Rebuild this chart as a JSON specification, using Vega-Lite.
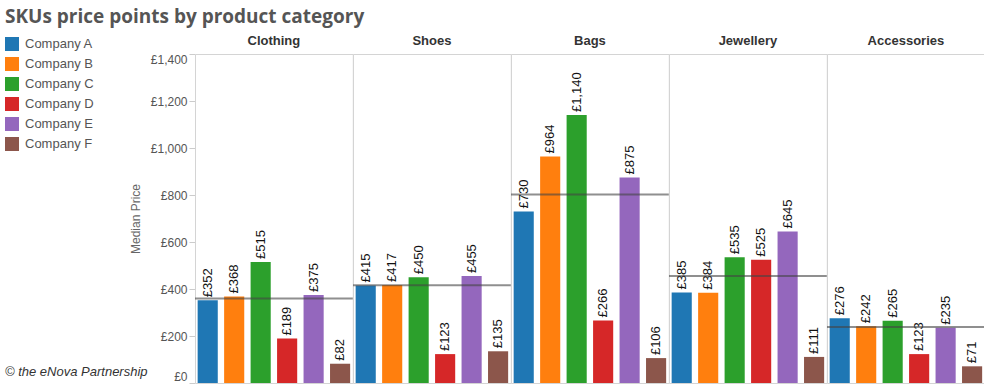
{
  "$schema": "https://vega.github.io/schema/vega-lite/v6.json",
  "padding": {"left": 5, "top": 8, "right": 0, "bottom": 1},
  "bounds": "flush",
  "title": {
    "text": "SKUs price points by product category",
    "anchor": "start",
    "frame": "bounds",
    "font": "Open Sans",
    "fontSize": 19,
    "fontWeight": "bold",
    "color": "#555555",
    "offset": 8
  },
  "data": {
    "values": [
      {"category": "Clothing", "company": "Company A", "price": 352},
      {"category": "Clothing", "company": "Company B", "price": 368},
      {"category": "Clothing", "company": "Company C", "price": 515},
      {"category": "Clothing", "company": "Company D", "price": 189},
      {"category": "Clothing", "company": "Company E", "price": 375},
      {"category": "Clothing", "company": "Company F", "price": 82},
      {"category": "Shoes", "company": "Company A", "price": 415},
      {"category": "Shoes", "company": "Company B", "price": 417},
      {"category": "Shoes", "company": "Company C", "price": 450},
      {"category": "Shoes", "company": "Company D", "price": 123},
      {"category": "Shoes", "company": "Company E", "price": 455},
      {"category": "Shoes", "company": "Company F", "price": 135},
      {"category": "Bags", "company": "Company A", "price": 730},
      {"category": "Bags", "company": "Company B", "price": 964},
      {"category": "Bags", "company": "Company C", "price": 1140},
      {"category": "Bags", "company": "Company D", "price": 266},
      {"category": "Bags", "company": "Company E", "price": 875},
      {"category": "Bags", "company": "Company F", "price": 106},
      {"category": "Jewellery", "company": "Company A", "price": 385},
      {"category": "Jewellery", "company": "Company B", "price": 384},
      {"category": "Jewellery", "company": "Company C", "price": 535},
      {"category": "Jewellery", "company": "Company D", "price": 525},
      {"category": "Jewellery", "company": "Company E", "price": 645},
      {"category": "Jewellery", "company": "Company F", "price": 111},
      {"category": "Accessories", "company": "Company A", "price": 276},
      {"category": "Accessories", "company": "Company B", "price": 242},
      {"category": "Accessories", "company": "Company C", "price": 265},
      {"category": "Accessories", "company": "Company D", "price": 123},
      {"category": "Accessories", "company": "Company E", "price": 235},
      {"category": "Accessories", "company": "Company F", "price": 71}
    ]
  },
  "facet": {
    "column": {
      "field": "category",
      "type": "nominal",
      "sort": ["Clothing", "Shoes", "Bags", "Jewellery", "Accessories"],
      "header": {
        "title": null,
        "labelFont": "Liberation Sans",
        "labelFontSize": 13,
        "labelFontWeight": "bold",
        "labelColor": "#333333",
        "labelPadding": 6
      }
    }
  },
  "spacing": 0,
  "spec": {
    "width": 157.8,
    "height": 329,
    "layer": [
      {
        "mark": {"type": "bar"},
        "encoding": {
          "x": {
            "field": "company",
            "type": "nominal",
            "axis": null,
            "scale": {"paddingInner": 0.24, "paddingOuter": 0.1}
          },
          "y": {
            "field": "price",
            "type": "quantitative",
            "scale": {"domain": [0, 1400]},
            "axis": {
              "title": "Median Price",
              "titleFont": "Liberation Sans",
              "titleFontSize": 12,
              "titleFontWeight": "normal",
              "titleColor": "#666666",
              "titlePadding": 8,
              "labelFont": "Liberation Sans",
              "labelFontSize": 12,
              "labelColor": "#555555",
              "labelFlush": true,
              "labelPadding": 2,
              "format": "$,.0f",
              "values": [0, 200, 400, 600, 800, 1000, 1200, 1400],
              "tickColor": "#cccccc",
              "tickSize": 6,
              "domain": false,
              "grid": false
            }
          },
          "color": {
            "field": "company",
            "type": "nominal",
            "scale": {
              "domain": ["Company A", "Company B", "Company C", "Company D", "Company E", "Company F"],
              "range": ["#1f77b4", "#ff7f0e", "#2ca02c", "#d62728", "#9467bd", "#8c564b"]
            },
            "legend": {
              "title": "© the eNova Partnership",
              "titleOrient": "bottom",
              "titlePadding": 215,
              "titleFont": "Liberation Sans",
              "titleFontSize": 13,
              "titleFontStyle": "italic",
              "titleFontWeight": "normal",
              "titleColor": "#333333",
              "orient": "none",
              "legendX": -190,
              "legendY": -17,
              "symbolType": "square",
              "symbolSize": 196,
              "symbolStrokeWidth": 0,
              "symbolOpacity": 1,
              "labelFont": "Liberation Sans",
              "labelFontSize": 13,
              "labelColor": "#555555",
              "labelOffset": 6,
              "rowPadding": 6
            }
          }
        }
      },
      {
        "mark": {"type": "text", "angle": 270, "align": "left", "baseline": "middle", "dx": 3, "font": "Liberation Sans", "fontSize": 13, "color": "#111111"},
        "encoding": {
          "x": {"field": "company", "type": "nominal"},
          "y": {"field": "price", "type": "quantitative"},
          "text": {"field": "price", "type": "quantitative", "format": "$,.0f"}
        }
      },
      {
        "mark": {"type": "rule", "color": "#444444", "opacity": 0.6, "strokeWidth": 2},
        "encoding": {
          "y": {"aggregate": "median", "field": "price", "type": "quantitative"}
        }
      }
    ]
  },
  "config": {
    "locale": {
      "number": {"decimal": ".", "thousands": ",", "grouping": [3], "currency": ["£", ""]}
    },
    "view": {"stroke": "#d4d4d4"},
    "background": "white"
  }
}
